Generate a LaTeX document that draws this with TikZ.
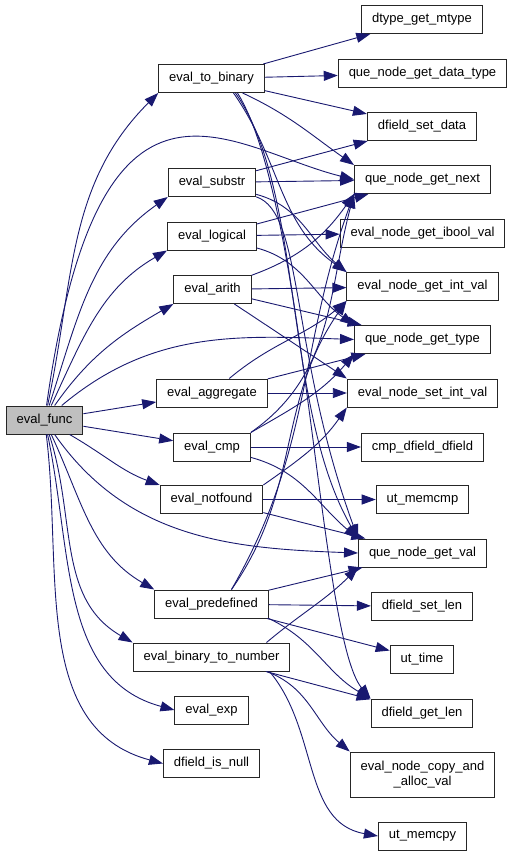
\documentclass[tikz,border=0pt]{standalone}
\usepackage{fontspec}
\setmainfont{Liberation Sans}
\usepackage{xcolor}
\usetikzlibrary{arrows.meta}
\definecolor{dxedge}{HTML}{191970}
\definecolor{dxroot}{HTML}{BFBFBF}

\begin{document}
\begin{tikzpicture}[
  x=1pt, y=1pt,
  font=\fontsize{13}{15}\selectfont,
  fn/.style={draw=black!85, fill=white, line width=1pt, minimum height=28pt,
             inner xsep=10.5pt, inner ysep=2pt, align=center},
  root/.style={fn, fill=dxroot},
  arr/.style={-{Triangle[length=14pt,width=10pt]}, dxedge, line width=0.9pt},
]
\useasboundingbox (0,0) rectangle (512,-856);
% caller and its direct callees
\node[root] (func)     at ( 44.5, -420)   {eval\_func};
\node[fn]   (tobin)    at (211.5,  -78.5) {eval\_to\_binary};
\node[fn]   (substr)   at (212,   -182.5) {eval\_substr};
\node[fn]   (logical)  at (212,   -236)   {eval\_logical};
\node[fn]   (arith)    at (212.5, -289.5) {eval\_arith};
\node[fn]   (aggr)     at (212,   -393)   {eval\_aggregate};
\node[fn]   (cmp)      at (212,   -447)   {eval\_cmp};
\node[fn]   (notfound) at (211.5, -499.5) {eval\_notfound};
\node[fn]   (predef)   at (211.5, -604)   {eval\_predefined};
\node[fn]   (bin2num)  at (211.5, -657)   {eval\_binary\_to\_number};
\node[fn]   (exp)      at (211.5, -710)   {eval\_exp};
\node[fn]   (isnull)   at (211.5, -763.5) {dfield\_is\_null};
% leaf functions
\node[fn]   (mtype)    at (422,    -19.5) {dtype\_get\_mtype};
\node[fn]   (dtype)    at (422.5,  -73.5) {que\_node\_get\_data\_type};
\node[fn]   (setdata)  at (422,   -126.5) {dfield\_set\_data};
\node[fn]   (next)     at (422.5, -179.5) {que\_node\_get\_next};
\node[fn]   (ibool)    at (422.5, -233)   {eval\_node\_get\_ibool\_val};
\node[fn]   (getint)   at (422.5, -286.5) {eval\_node\_get\_int\_val};
\node[fn]   (type)     at (422.5, -339.5) {que\_node\_get\_type};
\node[fn]   (setint)   at (422.5, -393)   {eval\_node\_set\_int\_val};
\node[fn]   (cmpdf)    at (422.5, -447)   {cmp\_dfield\_dfield};
\node[fn]   (memcmp)   at (422.5, -499.5) {ut\_memcmp};
\node[fn]   (getval)   at (422.5, -553)   {que\_node\_get\_val};
\node[fn]   (setlen)   at (422,   -606.5) {dfield\_set\_len};
\node[fn]   (time)     at (422,   -659)   {ut\_time};
\node[fn]   (getlen)   at (422,   -713)   {dfield\_get\_len};
\node[fn, minimum height=45pt] (copyval) at (422.5, -774.5) {eval\_node\_copy\_and\\\_alloc\_val};
\node[fn]   (memcpy)   at (422.5, -836)   {ut\_memcpy};
% eval_func
\draw[arr] (func) to[out=78,in=-135] (tobin.south west);
\draw[arr] (func) to[out=82,in=166,out distance=380,in distance=130] (next.west);
\draw[arr] (func) to[out=72,in=-145] (substr.south west);
\draw[arr] (func) to[out=65,in=-150] (logical.south west);
\draw[arr] (func) to[out=55,in=-150] (arith.south west);
\draw[arr] (func) to[out=40,in=178] (type.west);
\draw[arr] (func) -- (aggr);
\draw[arr] (func) -- (cmp);
\draw[arr] (func) to[out=-30,in=160] (notfound.north west);
\draw[arr] (func) to[out=-55,in=178] (getval.west);
\draw[arr] (func) to[out=-65,in=150] (predef.north west);
\draw[arr] (func) to[out=-72,in=150] (bin2num.north west);
\draw[arr] (func) to[out=-78,in=165] (exp.west);
\draw[arr] (func) to[out=-83,in=165] (isnull.west);
% eval_to_binary
\draw[arr] (tobin) -- (mtype);
\draw[arr] (tobin) -- (dtype);
\draw[arr] (tobin) -- (setdata);
\draw[arr] (tobin) to[out=-25,in=145] (next.north west);
\draw[arr] ([xshift=22pt]tobin.south) to[out=-55,in=145] (getint.north west);
\draw[arr] ([xshift=24pt]tobin.south) to[out=-55,in=120,out distance=120,in distance=150] (getval.north west);
\draw[arr] ([xshift=26pt]tobin.south) to[out=-58,in=130,out distance=130,in distance=80] (getlen.north west);
% eval_substr
\draw[arr] (substr) -- (setdata);
\draw[arr] (substr) -- (next);
\draw[arr] (substr) to[out=-15,in=140] (getint.north west);
\draw[arr] (substr) to[out=-18,in=110,out distance=50,in distance=200] (getval.north west);
% eval_logical
\draw[arr] (logical) -- (next);
\draw[arr] (logical) -- (ibool);
\draw[arr] (logical) to[out=-15,in=145] (type.north west);
% eval_arith
\draw[arr] (arith) to[out=20,in=-125] (next.south west);
\draw[arr] (arith) -- (getint);
\draw[arr] (arith) -- (type);
\draw[arr] (arith) -- (setint.north west);
% eval_aggregate
\draw[arr] (aggr) to[out=40,in=-140] (getint.south west);
\draw[arr] (aggr) -- (type);
\draw[arr] (aggr) -- (setint);
% eval_cmp
\draw[arr] (cmp.north east) to[out=30,in=-130] (type.south west);
\draw[arr] (cmp.north east) to[out=35,in=-105] (next.south west);
\draw[arr] (cmp) -- (cmpdf);
\draw[arr] (cmp) to[out=-15,in=140] (getval.north west);
% eval_notfound
\draw[arr] (notfound.north east) to[out=35,in=-125] (setint.south west);
\draw[arr] (notfound) -- (memcmp);
\draw[arr] (notfound) -- (getval);
% eval_predefined
\draw[arr] ([xshift=20pt]predef.north) to[out=55,in=-125] (getint.south west);
\draw[arr] ([xshift=20pt]predef.north) to[out=60,in=-110] (next.south west);
\draw[arr] (predef) -- (getval);
\draw[arr] (predef) -- (setlen);
\draw[arr] (predef) -- (time);
\draw[arr] (predef.south east) to[out=-25,in=150] (getlen.north west);
% eval_binary_to_number
\draw[arr] ([xshift=55pt]bin2num.north) to[out=40,in=-135] (getval.south west);
\draw[arr] (bin2num) -- (getlen);
\draw[arr] ([xshift=55pt]bin2num.south) to[out=-20,in=140] (copyval.north west);
\draw[arr] ([xshift=58pt]bin2num.south) to[out=-50,in=170] (memcpy.west);
\end{tikzpicture}
\end{document}
